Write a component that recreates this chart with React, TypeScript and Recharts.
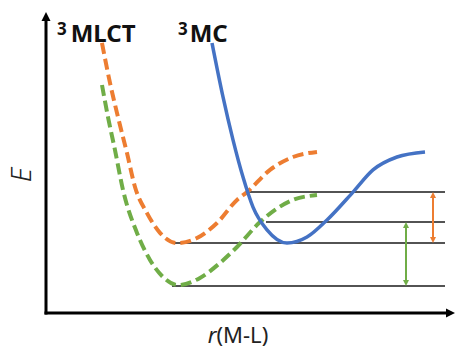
import { ComposedChart, Line, XAxis, YAxis, ReferenceLine } from 'recharts';

// Potential energy curves E(r) for the two 3MLCT states and the 3MC state.
// r and E are in arbitrary units (0..100).
const mlctUpper = [
  { r: 14, E: 90 },
  { r: 16, E: 76.7 },
  { r: 18, E: 65.3 },
  { r: 20.25, E: 53.3 },
  { r: 22.25, E: 42 },
  { r: 25.25, E: 33.3 },
  { r: 28.5, E: 26.7 },
  { r: 32.75, E: 23.3 },
  { r: 37.75, E: 25 },
  { r: 42.75, E: 30 },
  { r: 47.75, E: 37.7 },
  { r: 50.25, E: 40.3 },
  { r: 56, E: 47.7 },
  { r: 61.75, E: 52 },
  { r: 67.75, E: 53.7 },
];

const mlctLower = [
  { r: 14, E: 76 },
  { r: 15.5, E: 65.3 },
  { r: 17.25, E: 54.3 },
  { r: 19.25, E: 41 },
  { r: 22.75, E: 26.7 },
  { r: 26, E: 17.7 },
  { r: 29.25, E: 12 },
  { r: 33, E: 9.3 },
  { r: 38.5, E: 11.7 },
  { r: 43.5, E: 16.7 },
  { r: 47.75, E: 22 },
  { r: 53.5, E: 30.3 },
  { r: 61.75, E: 37.7 },
  { r: 67.75, E: 39.3 },
];

const mc = [
  { r: 41.5, E: 90 },
  { r: 44.25, E: 72 },
  { r: 46.75, E: 57.7 },
  { r: 49.25, E: 45.3 },
  { r: 51.75, E: 35.3 },
  { r: 55.25, E: 27.7 },
  { r: 60.25, E: 23.3 },
  { r: 65.25, E: 25.3 },
  { r: 70.25, E: 31 },
  { r: 76.75, E: 40.3 },
  { r: 81.75, E: 47.7 },
  { r: 87.75, E: 52 },
  { r: 94.75, E: 53.7 },
];

// Energy levels: [E, r where the level line starts]
const levels: [number, number][] = [
  [40.3, 50.25],
  [30.3, 55],
  [23.3, 31.5],
  [9, 31.5],
];
const levelEnd = 99.75;

// Energy gaps drawn as double-headed arrows: [r, E from, E to, colour]
const gaps: [number, number, number, string][] = [
  [96.75, 40.3, 23.3, '#ED7D31'],
  [90, 30.3, 9, '#70AD47'],
];

const R_MAX = 102.25;
const E_MAX = 100.33;

const ORANGE = '#ED7D31';
const GREEN = '#70AD47';
const BLUE = '#4472C4';

function DoubleArrow(p: any) {
  const { x1, y1, x2, y2, stroke } = p;
  const h = 6;
  const w = 3;
  const top = Math.min(y1, y2);
  const bot = Math.max(y1, y2);
  return (
    <g>
      <line x1={x1} y1={top + h - 1} x2={x2} y2={bot - h + 1} stroke={stroke} strokeWidth={2} />
      <polygon points={`${x1},${top} ${x1 - w},${top + h} ${x1 + w},${top + h}`} fill={stroke} />
      <polygon points={`${x1},${bot} ${x1 - w},${bot - h} ${x1 + w},${bot - h}`} fill={stroke} />
    </g>
  );
}

function AxisArrow(p: any) {
  const { x1, y1, x2, y2 } = p;
  const vertical = Math.abs(x1 - x2) < 0.5;
  const h = 9;
  const w = 4.5;
  if (vertical) {
    const top = Math.min(y1, y2);
    const bot = Math.max(y1, y2);
    return (
      <g>
        <line x1={x1} y1={bot + 1.5} x2={x1} y2={top + h - 1} stroke="#000" strokeWidth={3} />
        <polygon points={`${x1},${top} ${x1 - w},${top + h} ${x1 + w},${top + h}`} fill="#000" />
      </g>
    );
  }
  const left = Math.min(x1, x2);
  const right = Math.max(x1, x2);
  return (
    <g>
      <line x1={left - 1.5} y1={y1} x2={right - h + 1} y2={y1} stroke="#000" strokeWidth={3} />
      <polygon points={`${right},${y1} ${right - h},${y1 - w} ${right - h},${y1 + w}`} fill="#000" />
    </g>
  );
}

export default function App() {
  return (
    <div style={{ position: 'absolute', left: 0, top: 0, width: 455, height: 349, background: '#fff' }}>
      <ComposedChart
        width={455}
        height={349}
        margin={{ top: 12, right: 0, bottom: 36, left: 46 }}
        style={{ fontFamily: '"Noto Sans", "Open Sans", sans-serif' }}
      >
        <XAxis dataKey="r" type="number" domain={[0, R_MAX]} hide allowDataOverflow />
        <YAxis dataKey="E" type="number" domain={[0, E_MAX]} hide allowDataOverflow />

        {levels.map(([e, start], i) => (
          <ReferenceLine
            key={`lvl${i}`}
            segment={[
              { x: start, y: e },
              { x: levelEnd, y: e },
            ]}
            stroke="#1a1a1a"
            strokeWidth={1.5}
          />
        ))}

        <Line
          data={mlctUpper}
          dataKey="E"
          type="monotone"
          stroke={ORANGE}
          strokeWidth={4}
          strokeDasharray="11 5"
          dot={false}
          isAnimationActive={false}
        />
        <Line
          data={mlctLower}
          dataKey="E"
          type="monotone"
          stroke={GREEN}
          strokeWidth={4}
          strokeDasharray="11 5"
          dot={false}
          isAnimationActive={false}
        />
        <Line
          data={mc}
          dataKey="E"
          type="monotone"
          stroke={BLUE}
          strokeWidth={3.5}
          dot={false}
          isAnimationActive={false}
        />

        {gaps.map(([r, e1, e2, c], i) => (
          <ReferenceLine
            key={`gap${i}`}
            segment={[
              { x: r, y: e1 },
              { x: r, y: e2 },
            ]}
            stroke={c}
            shape={DoubleArrow}
          />
        ))}

        <ReferenceLine
          segment={[
            { x: 0, y: 0 },
            { x: 0, y: E_MAX },
          ]}
          shape={AxisArrow}
        />
        <ReferenceLine
          segment={[
            { x: 0, y: 0 },
            { x: R_MAX, y: 0 },
          ]}
          shape={AxisArrow}
        />

        <text x={57} y={42} fontWeight={700} fill="#111">
          <tspan fontSize={17} dy={-7}>3</tspan>
          <tspan fontSize={24} dy={7} dx={4}>MLCT</tspan>
        </text>
        <text x={178} y={42} fontWeight={700} fill="#111">
          <tspan fontSize={17} dy={-7}>3</tspan>
          <tspan fontSize={24} dy={7} dx={2}>MC</tspan>
        </text>
        <text
          x={31}
          y={175}
          fontSize={28}
          fontStyle="italic"
          fontWeight={300}
          textAnchor="middle"
          transform="rotate(-90 31 175)"
          fill="#222"
        >
          E
        </text>
        <text x={238} y={343} fontSize={22} textAnchor="middle" fill="#222">
          <tspan fontStyle="italic">r</tspan>(M-L)
        </text>
      </ComposedChart>
    </div>
  );
}
